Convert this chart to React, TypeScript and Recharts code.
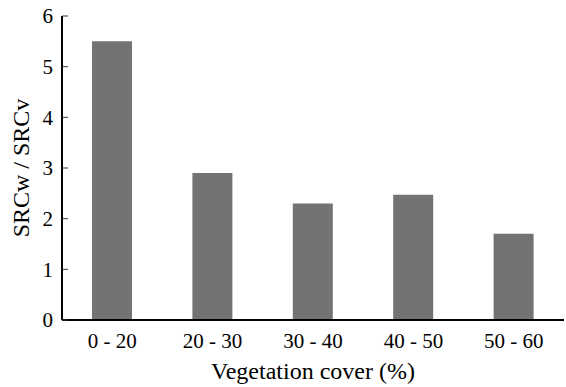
import { Bar, BarChart, Label, XAxis, YAxis } from "recharts";

const categories = ["0 - 20", "20 - 30", "30 - 40", "40 - 50", "50 - 60"];
const ratios = [5.5, 2.9, 2.3, 2.47, 1.7];
const yTicks = [0, 1, 2, 3, 4, 5, 6];
const boundaryTicks = [1, 2, 3, 4, 5];

const FONT = "Liberation Serif";

export default function App() {
  const data = categories.map((c, i) => ({ cover: c, ratio: ratios[i] }));

  return (
    <div style={{ position: "absolute", left: 0, top: 0, background: "#fff" }}>
      <BarChart
        width={566}
        height={387}
        data={data}
        margin={{ top: 16, right: 2, left: 0, bottom: 0 }}
      >
        {/* hidden numeric axis: only draws the small ticks between categories */}
        <XAxis
          xAxisId="bounds"
          type="number"
          domain={[0, 5]}
          ticks={boundaryTicks}
          tick={false}
          axisLine={false}
          tickSize={-6}
          tickLine={{ stroke: "#333", strokeWidth: 1 }}
          height={0}
        />
        <XAxis
          dataKey="cover"
          tickLine={false}
          tickSize={0}
          tickMargin={13}
          axisLine={{ stroke: "#000", strokeWidth: 2 }}
          tick={{ fill: "#000", fontFamily: FONT, fontSize: 21 }}
          height={67}
        >
          <Label
            value="Vegetation cover (%)"
            position="insideBottom"
            offset={8}
            fontFamily={FONT}
            fontSize={24}
            fill="#000"
          />
        </XAxis>
        <YAxis
          domain={[0, 6]}
          ticks={yTicks}
          interval={0}
          width={62}
          tickSize={-6}
          tickMargin={15}
          axisLine={{ stroke: "#000", strokeWidth: 2 }}
          tickLine={{ stroke: "#333", strokeWidth: 1 }}
          tick={{ fill: "#000", fontFamily: FONT, fontSize: 21 }}
        >
          <Label
            value="SRCw / SRCv"
            angle={-90}
            position="insideLeft"
            offset={20}
            fontFamily={FONT}
            fontSize={24}
            fill="#000"
            textAnchor="middle"
          />
        </YAxis>
        <Bar dataKey="ratio" fill="#737373" barSize={40} isAnimationActive={false} />
      </BarChart>
    </div>
  );
}
